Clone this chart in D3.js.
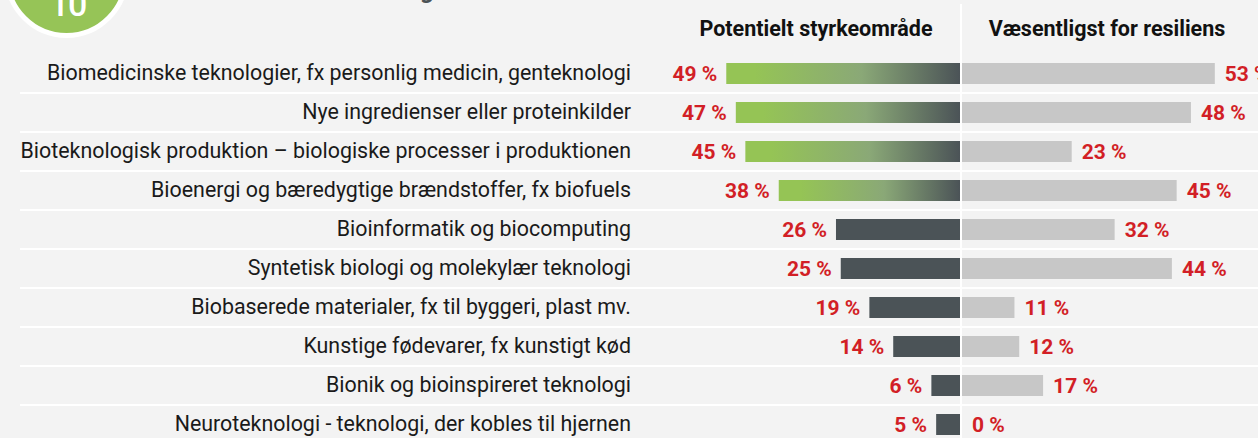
<!DOCTYPE html>
<html><head><meta charset="utf-8">
<script src="https://cdn.jsdelivr.net/npm/d3@7"></script>
<style>
html,body{margin:0;padding:0;background:#f3f3f3;}
svg{display:block;}
</style></head>
<body>
<svg id="chart" width="1258" height="438"></svg>
<script>
const categories = [
  "Biomedicinske teknologier, fx personlig medicin, genteknologi",
  "Nye ingredienser eller proteinkilder",
  "Bioteknologisk produktion – biologiske processer i produktionen",
  "Bioenergi og bæredygtige brændstoffer, fx biofuels",
  "Bioinformatik og biocomputing",
  "Syntetisk biologi og molekylær teknologi",
  "Biobaserede materialer, fx til byggeri, plast mv.",
  "Kunstige fødevarer, fx kunstigt kød",
  "Bionik og bioinspireret teknologi",
  "Neuroteknologi - teknologi, der kobles til hjernen"
];
const strengthValues = [49, 47, 45, 38, 26, 25, 19, 14, 6, 5];
const resilienceValues = [53, 48, 23, 45, 32, 44, 11, 12, 17, 0];
const seriesNames = ["Potentielt styrkeområde", "Væsentligst for resiliens"];
const highlightedTop = 4;
const badgeLabel = "10";
const titleText = "Bioteknologi";

const W = 1258, H = 438;
const svg = d3.select("#chart");
const green = "#95c455", dark = "#4b5357", light = "#c7c7c7", red = "#d21f26";

// badge
svg.append("circle").attr("cx", 66.5).attr("cy", -24).attr("r", 59.5)
  .attr("fill", "#96c457").attr("stroke", "#fff").attr("stroke-width", 5);
svg.append("text").attr("x", 68).attr("y", 16).attr("text-anchor", "middle")
  .attr("font-family", "Roboto").attr("font-size", 34).attr("font-weight", 500)
  .attr("fill", "#fff").attr("letter-spacing", -1).text(badgeLabel);
svg.append("text").attr("x", 440).attr("y", -2).attr("text-anchor", "end")
  .attr("font-family", "Roboto").attr("font-size", 24).attr("font-weight", 700)
  .attr("fill", "#4b5357").text(titleText);

const y = d3.scaleBand().domain(categories).range([54, 444])
  .paddingInner(18/39).paddingOuter(9/39);
const xL = d3.scaleLinear().domain([0, 100]).range([960, 960 - 477]);
const xR = d3.scaleLinear().domain([0, 100]).range([962, 962 + 477]);

// gradient
const defs = svg.append("defs");
const grad = defs.append("linearGradient").attr("id", "g1")
  .attr("x1", "0%").attr("x2", "100%").attr("y1", "0%").attr("y2", "0%");
grad.append("stop").attr("offset", "0%").attr("stop-color", green);
grad.append("stop").attr("offset", "12%").attr("stop-color", green);
grad.append("stop").attr("offset", "58%").attr("stop-color", "#8aa877");
grad.append("stop").attr("offset", "100%").attr("stop-color", dark);

// separators
const step = y.step();
svg.append("g").selectAll("line").data(categories.slice(0, -1)).join("line")
  .attr("x1", 20).attr("x2", W)
  .attr("y1", d => y(d) + y.bandwidth() + (step - y.bandwidth()) / 2)
  .attr("y2", d => y(d) + y.bandwidth() + (step - y.bandwidth()) / 2)
  .attr("stroke", "#fff").attr("stroke-width", 2);

// divider
svg.append("line").attr("x1", 961).attr("x2", 961).attr("y1", 4).attr("y2", H)
  .attr("stroke", "#fff").attr("stroke-width", 2);

// headers
svg.append("text").attr("x", 816).attr("y", 36).attr("text-anchor", "middle")
  .attr("font-family", "Roboto").attr("font-weight", 700).attr("font-size", 21.5)
  .attr("fill", "#111").text(seriesNames[0]);
svg.append("text").attr("x", 1107).attr("y", 36).attr("text-anchor", "middle")
  .attr("font-family", "Roboto").attr("font-weight", 700).attr("font-size", 21.5)
  .attr("fill", "#111").text(seriesNames[1]);

// category axis
const axis = svg.append("g").attr("transform", "translate(640,0)")
  .call(d3.axisLeft(y).tickSize(0).tickPadding(9));
axis.select(".domain").remove();
axis.selectAll("text").attr("font-family", "Roboto").attr("font-size", 21.4)
  .attr("fill", "#1a1a1a");

// left bars
svg.append("g").selectAll("rect").data(categories).join("rect")
  .attr("x", (d, i) => xL(strengthValues[i]))
  .attr("width", (d, i) => xL(0) - xL(strengthValues[i]))
  .attr("y", d => y(d)).attr("height", y.bandwidth())
  .attr("fill", (d, i) => i < highlightedTop ? "url(#g1)" : dark);

// right bars
svg.append("g").selectAll("rect").data(categories).join("rect")
  .attr("x", xR(0))
  .attr("width", (d, i) => xR(resilienceValues[i]) - xR(0))
  .attr("y", d => y(d)).attr("height", y.bandwidth())
  .attr("fill", light);

// value labels
svg.append("g").selectAll("text").data(categories).join("text")
  .attr("x", (d, i) => xL(strengthValues[i]) - 9)
  .attr("y", d => y(d) + y.bandwidth() / 2).attr("dy", "0.36em")
  .attr("text-anchor", "end").attr("font-family", "Roboto").attr("font-weight", 700)
  .attr("font-size", 21).attr("fill", red)
  .text((d, i) => strengthValues[i] + " %");
svg.append("g").selectAll("text").data(categories).join("text")
  .attr("x", (d, i) => xR(resilienceValues[i]) + 10)
  .attr("y", d => y(d) + y.bandwidth() / 2).attr("dy", "0.36em")
  .attr("text-anchor", "start").attr("font-family", "Roboto").attr("font-weight", 700)
  .attr("font-size", 21).attr("fill", red)
  .text((d, i) => resilienceValues[i] + " %");
</script>
</body></html>
